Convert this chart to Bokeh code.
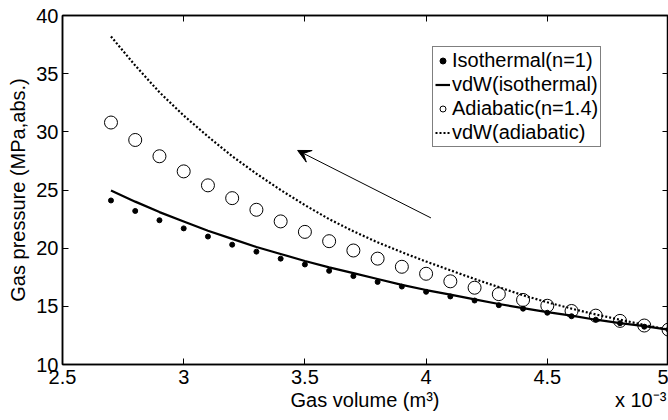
from bokeh.plotting import figure
from bokeh.models import (Range1d, FixedTicker, LinearAxis, Arrow, VeeHead,
                          ColumnDataSource, Legend, LegendItem)
from bokeh.embed import file_html
from bokeh.resources import INLINE

# ---- data (gas volume in units of 1e-3 m^3, pressure in MPa abs.) ----
volume = [2.7, 2.8, 2.9, 3.0, 3.1, 3.2, 3.3, 3.4, 3.5, 3.6, 3.7, 3.8,
          3.9, 4.0, 4.1, 4.2, 4.3, 4.4, 4.5, 4.6, 4.7, 4.8, 4.9, 5.0]
isothermal = [24.1, 23.2, 22.4, 21.7, 21.0, 20.3, 19.7, 19.1, 18.6, 18.05, 17.6, 17.1,
              16.7, 16.25, 15.85, 15.5, 15.1, 14.8, 14.45, 14.15, 13.85, 13.55, 13.25, 13.0]
vdw_isothermal = [24.95, 24.0, 23.1, 22.3, 21.5, 20.8, 20.1, 19.5, 18.9, 18.35, 17.85, 17.35,
                  16.85, 16.4, 16.0, 15.6, 15.2, 14.85, 14.5, 14.2, 13.85, 13.55, 13.3, 13.0]
adiabatic = [30.8, 29.3, 27.9, 26.6, 25.4, 24.3, 23.3, 22.3, 21.4, 20.6, 19.8, 19.1,
             18.4, 17.8, 17.15, 16.6, 16.05, 15.55, 15.05, 14.6, 14.2, 13.75, 13.35, 13.0]
vdw_adiabatic = [38.2, 35.7, 33.4, 31.4, 29.6, 27.9, 26.4, 25.0, 23.7, 22.5, 21.45, 20.5,
                 19.65, 18.85, 18.1, 17.35, 16.65, 15.95, 15.35, 14.8, 14.3, 13.85, 13.4, 13.0]

x_ticks = [2.5, 3.0, 3.5, 4.0, 4.5, 5.0]
x_tick_labels = ["2.5", "3", "3.5", "4", "4.5", "5"]
y_ticks = [10, 15, 20, 25, 30, 35, 40]
series_labels = ["Isothermal(n=1)", "vdW(isothermal)", "Adiabatic(n=1.4)", "vdW(adiabatic)"]
x_title = "Gas volume (m³)"
x_exponent = "x 10⁻³"
y_title = "Gas pressure (MPa,abs.)"
# arrow annotation (data coords): tail -> head
arrow_start = (4.02, 22.6)
arrow_end = (3.47, 28.4)

FONT = "Liberation Sans"
# where the x title and the exponent sit along the x axis (layout only)
X_TITLE_POS = 3.748
X_EXP_POS = 4.885

src = ColumnDataSource(dict(v=volume, iso=isothermal, viso=vdw_isothermal,
                            ad=adiabatic, vad=vdw_adiabatic))

p = figure(width=668, height=420, output_backend="svg", toolbar_location=None,
           x_range=Range1d(2.5, 5.0), y_range=Range1d(10, 40),
           min_border_left=62, min_border_right=0, min_border_top=15, min_border_bottom=56)
p.background_fill_color = "white"
p.border_fill_color = "white"
p.grid.visible = False
p.outline_line_color = "black"
p.outline_line_width = 1.5

r1 = p.scatter("v", "iso", source=src, size=5, marker="circle",
               fill_color="black", line_color="black")
r2 = p.line("v", "viso", source=src, line_color="black", line_width=2.2)
r3 = p.scatter("v", "ad", source=src, size=13, marker="circle",
               fill_color=None, line_color="black", line_width=1)
r4 = p.line("v", "vad", source=src, line_color="black", line_width=2.2,
            line_dash="2 2")

p.add_layout(Arrow(x_start=arrow_start[0], y_start=arrow_start[1],
                   x_end=arrow_end[0], y_end=arrow_end[1],
                   line_color="black", line_width=1,
                   end=VeeHead(size=13, fill_color="black", line_color="black")))

def style_axis(ax, labels=True):
    ax.major_tick_in = 6
    ax.major_tick_out = 0
    ax.minor_tick_in = 0
    ax.minor_tick_out = 0
    ax.axis_line_color = "black"
    ax.axis_line_width = 1.5
    ax.major_tick_line_color = "black"
    ax.major_tick_line_width = 1
    ax.major_label_text_font = FONT
    ax.major_label_text_color = "black"
    ax.axis_label_text_color = "black"
    if labels:
        ax.major_label_text_font_size = "20px"
    else:
        ax.major_label_text_font_size = "1px"
        ax.major_label_text_color = None
        ax.major_label_standoff = 0

xa = p.xaxis[0]
xa.ticker = FixedTicker(ticks=x_ticks)
xa.major_label_overrides = {t: l for t, l in zip(x_ticks, x_tick_labels)}
style_axis(xa)
xa.major_label_standoff = 5

# second bottom axis only carries the x title and the MATLAB-style exponent on one row
xb = LinearAxis(ticker=FixedTicker(ticks=[X_TITLE_POS, X_EXP_POS]),
                major_label_overrides={X_TITLE_POS: x_title, X_EXP_POS: x_exponent})
xb.axis_line_color = None
xb.major_tick_line_color = None
xb.minor_tick_line_color = None
xb.major_tick_in = 0
xb.major_tick_out = 0
xb.major_label_standoff = 2
xb.major_label_text_font = FONT
xb.major_label_text_font_size = "20px"
xb.major_label_text_color = "black"
p.add_layout(xb, "below")

ya = p.yaxis[0]
ya.ticker = FixedTicker(ticks=y_ticks)
style_axis(ya)
ya.major_label_standoff = 4
ya.axis_label = y_title
ya.axis_label_text_font = FONT
ya.axis_label_text_font_size = "20px"
ya.axis_label_text_font_style = "normal"
ya.axis_label_text_color = "black"
ya.axis_label_standoff = 4

top = LinearAxis(ticker=FixedTicker(ticks=x_ticks))
style_axis(top, labels=False)
p.add_layout(top, "above")
right = LinearAxis(ticker=FixedTicker(ticks=y_ticks))
style_axis(right, labels=False)
p.add_layout(right, "right")

legend = Legend(items=[LegendItem(label=series_labels[0], renderers=[r1]),
                       LegendItem(label=series_labels[1], renderers=[r2]),
                       LegendItem(label=series_labels[2], renderers=[r3]),
                       LegendItem(label=series_labels[3], renderers=[r4])],
                location=(370, 217))
legend.padding = 2
legend.spacing = 1
legend.margin = 0
legend.glyph_width = 15
legend.glyph_height = 23
legend.label_height = 23
legend.label_standoff = 2
legend.label_text_font = FONT
legend.label_text_font_size = "20px"
legend.label_text_color = "black"
legend.border_line_color = "black"
legend.border_line_width = 1.5
legend.background_fill_color = "white"
legend.background_fill_alpha = 1
p.add_layout(legend)

open("out.html", "w").write(file_html(p, INLINE))
